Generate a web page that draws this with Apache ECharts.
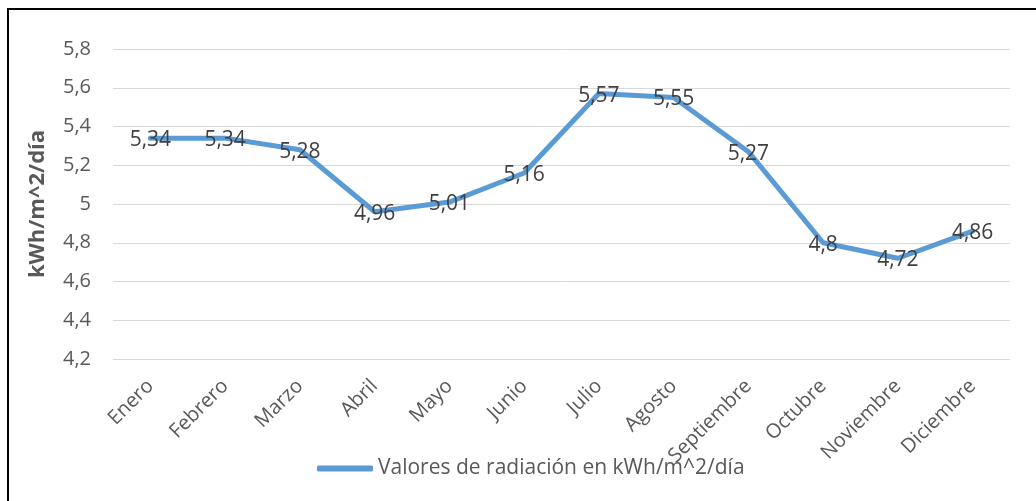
<!DOCTYPE html>
<html>
<head>
<meta charset="utf-8">
<script src="https://cdn.jsdelivr.net/npm/echarts@6/dist/echarts.min.js"></script>
<style>
  html, body { margin: 0; padding: 0; background: #fff; }
  #main { width: 1036px; height: 501px; }
</style>
</head>
<body>
<div id="main"></div>
<script>
const meses = ['Enero', 'Febrero', 'Marzo', 'Abril', 'Mayo', 'Junio', 'Julio', 'Agosto', 'Septiembre', 'Octubre', 'Noviembre', 'Diciembre']
const radiacion = [5.34, 5.34, 5.28, 4.96, 5.01, 5.16, 5.57, 5.55, 5.27, 4.8, 4.72, 4.86]
const serieNombre = 'Valores de radiación en kWh/m^2/día'
const ejeNombre = 'kWh/m^2/día'

const coma = v => String(v).replace('.', ',')
const fuente = '"Open Sans", sans-serif'
const azul = '#5b9bd5'

var chart = echarts.init(document.getElementById('main'))

let option = {
  animation: false,
  textStyle: { fontFamily: fuente },
  graphic: [{
    type: 'rect',
    shape: { x: 8, y: 9, width: 1100, height: 600 },
    style: { fill: 'none', stroke: '#000', lineWidth: 2 },
    silent: true
  }],
  grid: { left: 113, right: 26, top: 49, bottom: 142 },
  legend: {
    left: 312,
    top: 453,
    icon: 'roundRect',
    itemWidth: 56,
    itemHeight: 6,
    itemGap: 4,
    textStyle: { fontFamily: fuente, fontSize: 21, color: '#595959' },
    data: [{ name: serieNombre, itemStyle: { color: azul } }]
  },
  xAxis: {
    type: 'category',
    data: meses,
    boundaryGap: true,
    axisLine: { show: false },
    axisTick: { show: false },
    axisLabel: {
      rotate: 45,
      margin: 24,
      interval: 0,
      fontFamily: fuente,
      fontSize: 20,
      color: '#595959'
    }
  },
  yAxis: {
    type: 'value',
    min: 4.2,
    max: 5.8,
    interval: 0.2,
    name: ejeNombre,
    nameLocation: 'middle',
    nameGap: 64,
    nameTextStyle: { fontFamily: fuente, fontSize: 22, fontWeight: 'bold', color: '#595959' },
    axisLine: { show: false },
    axisTick: { show: false },
    splitLine: { lineStyle: { color: '#d9d9d9', width: 1 } },
    axisLabel: {
      margin: 22,
      fontFamily: fuente,
      fontSize: 20,
      color: '#595959',
      formatter: v => coma(+v.toFixed(1))
    }
  },
  series: [{
    name: serieNombre,
    type: 'line',
    data: radiacion,
    symbol: 'circle',
    symbolSize: 0.1,
    showSymbol: true,
    itemStyle: { color: azul },
    lineStyle: { color: azul, width: 5, cap: 'round', join: 'round' },
    label: {
      show: true,
      position: 'inside',
      offset: [0, 2],
      fontFamily: fuente,
      fontSize: 21,
      color: '#404040',
      formatter: p => coma(p.value)
    }
  }]
}

chart.setOption(option)
</script>
</body>
</html>
